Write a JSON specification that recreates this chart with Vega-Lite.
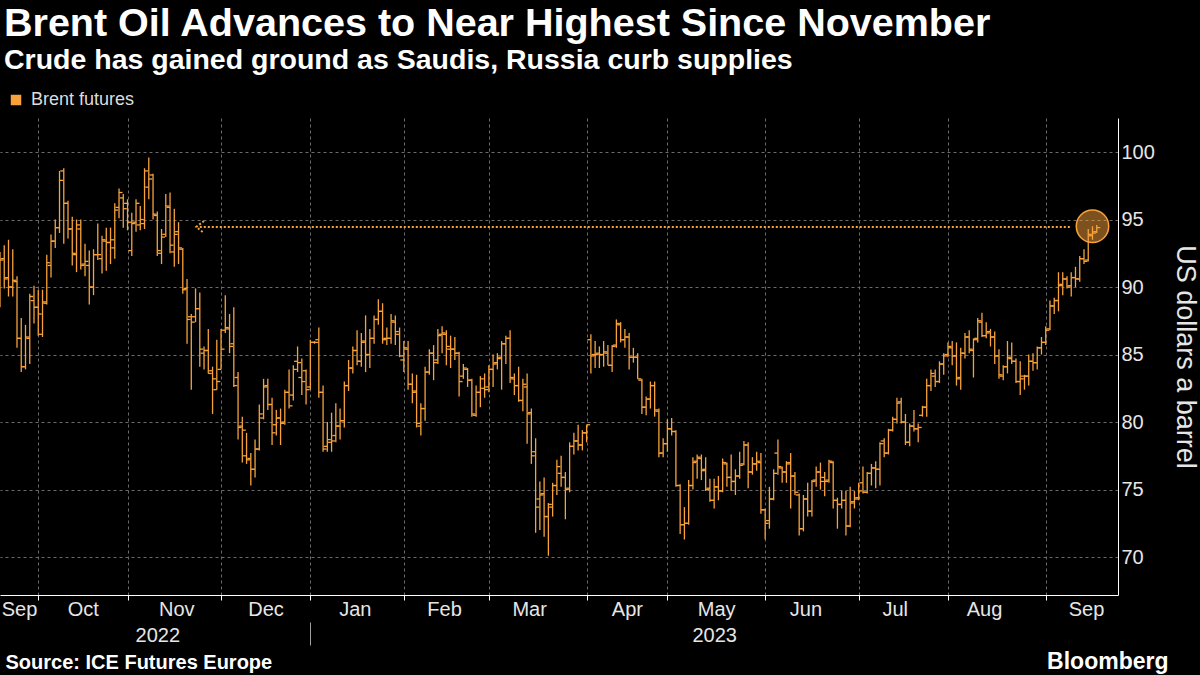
{
"$schema":"https://vega.github.io/schema/vega-lite/v6.json",
"width":1118,"height":477,
"autosize":{"type":"none"},
"padding":{"left":0,"top":118,"right":82,"bottom":80},
"background":"#000000",
"title":{"text":"Brent Oil Advances to Near Highest Since November","subtitle":"Crude has gained ground as Saudis, Russia curb supplies","anchor":"start","frame":"group","offset":16,"dx":4,"font":"Liberation Sans","fontSize":39.5,"fontWeight":"bold","color":"#ffffff","subtitleFont":"Liberation Sans","subtitleFontSize":28.5,"subtitleFontWeight":"bold","subtitleColor":"#ffffff","subtitlePadding":1},
"config":{
"font":"Liberation Sans",
"view":{"stroke":null},
"axis":{"labelFont":"Liberation Sans","labelColor":"#e6e6e6","labelFontSize":20,"titleFont":"Liberation Sans","titleColor":"#e6e6e6","titleFontWeight":"normal","gridColor":"#6b6b6b","gridDash":[3,3],"gridWidth":1,"domainColor":"#ffffff","tickColor":"#ffffff"},
"axisX":{"grid":false,"ticks":false,"domain":false},
"axisY":{"labelAlign":"left","labelPadding":3,"ticks":false,"grid":true,"domain":true,"titleFontSize":27,"titlePadding":16}
},
"datasets":{
"px":[
{"d":"2022-09-19","o":91.2,"h":92.6,"l":88.5,"c":92.0},
{"d":"2022-09-20","o":92.1,"h":93.1,"l":89.9,"c":90.6},
{"d":"2022-09-21","o":90.7,"h":93.5,"l":89.3,"c":90.0},
{"d":"2022-09-22","o":90.0,"h":92.8,"l":89.3,"c":90.5},
{"d":"2022-09-23","o":90.4,"h":90.8,"l":85.5,"c":86.2},
{"d":"2022-09-26","o":86.2,"h":87.7,"l":83.7,"c":84.1},
{"d":"2022-09-27","o":84.1,"h":87.2,"l":83.9,"c":86.3},
{"d":"2022-09-28","o":86.2,"h":89.5,"l":84.3,"c":89.3},
{"d":"2022-09-29","o":89.0,"h":90.1,"l":87.3,"c":88.5},
{"d":"2022-09-30","o":88.5,"h":89.8,"l":86.4,"c":88.0},
{"d":"2022-10-03","o":86.5,"h":89.8,"l":86.3,"c":88.9},
{"d":"2022-10-04","o":88.8,"h":92.4,"l":88.7,"c":91.8},
{"d":"2022-10-05","o":91.6,"h":93.9,"l":90.7,"c":93.4},
{"d":"2022-10-06","o":93.4,"h":95.0,"l":92.9,"c":94.4},
{"d":"2022-10-07","o":94.4,"h":98.6,"l":94.0,"c":97.9},
{"d":"2022-10-10","o":98.6,"h":98.8,"l":93.2,"c":96.2},
{"d":"2022-10-11","o":96.2,"h":96.4,"l":93.6,"c":94.3},
{"d":"2022-10-12","o":94.3,"h":95.2,"l":91.6,"c":92.5},
{"d":"2022-10-13","o":92.4,"h":95.0,"l":91.1,"c":94.6},
{"d":"2022-10-14","o":94.3,"h":95.0,"l":91.3,"c":91.6},
{"d":"2022-10-17","o":91.7,"h":93.2,"l":90.8,"c":91.9},
{"d":"2022-10-18","o":91.6,"h":92.7,"l":88.7,"c":90.0},
{"d":"2022-10-19","o":90.0,"h":92.8,"l":89.4,"c":92.4},
{"d":"2022-10-20","o":92.4,"h":94.7,"l":92.0,"c":92.4},
{"d":"2022-10-21","o":92.1,"h":93.8,"l":91.0,"c":93.5},
{"d":"2022-10-24","o":93.4,"h":94.4,"l":91.2,"c":93.3},
{"d":"2022-10-25","o":93.3,"h":94.4,"l":91.7,"c":93.5},
{"d":"2022-10-26","o":92.9,"h":96.2,"l":92.1,"c":95.7},
{"d":"2022-10-27","o":95.9,"h":97.3,"l":95.1,"c":97.0},
{"d":"2022-10-28","o":96.6,"h":96.9,"l":94.4,"c":95.8},
{"d":"2022-10-31","o":96.2,"h":96.5,"l":94.2,"c":94.8},
{"d":"2022-11-01","o":92.7,"h":95.5,"l":92.3,"c":94.7},
{"d":"2022-11-02","o":94.8,"h":96.5,"l":94.1,"c":96.2},
{"d":"2022-11-03","o":94.6,"h":96.0,"l":94.2,"c":95.0},
{"d":"2022-11-04","o":94.7,"h":98.8,"l":94.3,"c":98.6},
{"d":"2022-11-07","o":97.4,"h":99.6,"l":96.5,"c":98.0},
{"d":"2022-11-08","o":98.3,"h":98.4,"l":95.0,"c":95.4},
{"d":"2022-11-09","o":95.3,"h":95.6,"l":92.3,"c":92.7},
{"d":"2022-11-10","o":92.5,"h":94.3,"l":91.7,"c":93.7},
{"d":"2022-11-11","o":93.9,"h":96.9,"l":93.7,"c":96.0},
{"d":"2022-11-14","o":95.9,"h":97.0,"l":92.5,"c":93.1},
{"d":"2022-11-15","o":92.6,"h":95.8,"l":91.5,"c":93.9},
{"d":"2022-11-16","o":94.1,"h":94.8,"l":91.7,"c":92.9},
{"d":"2022-11-17","o":92.8,"h":92.9,"l":89.5,"c":89.8},
{"d":"2022-11-18","o":89.9,"h":90.6,"l":85.8,"c":87.6},
{"d":"2022-11-21","o":87.8,"h":88.0,"l":82.4,"c":87.4},
{"d":"2022-11-22","o":87.8,"h":89.9,"l":87.4,"c":88.4},
{"d":"2022-11-23","o":88.4,"h":89.6,"l":84.1,"c":85.4},
{"d":"2022-11-24","o":85.1,"h":85.6,"l":83.9,"c":85.3},
{"d":"2022-11-25","o":85.3,"h":86.9,"l":83.6,"c":83.6},
{"d":"2022-11-28","o":83.8,"h":84.1,"l":80.6,"c":83.2},
{"d":"2022-11-29","o":82.4,"h":86.1,"l":82.4,"c":83.0},
{"d":"2022-11-30","o":83.9,"h":86.9,"l":83.9,"c":85.4},
{"d":"2022-12-01","o":86.8,"h":89.4,"l":86.6,"c":87.0},
{"d":"2022-12-02","o":86.9,"h":88.0,"l":85.1,"c":85.6},
{"d":"2022-12-05","o":85.8,"h":88.5,"l":82.6,"c":82.7},
{"d":"2022-12-06","o":83.3,"h":83.7,"l":78.7,"c":79.6},
{"d":"2022-12-07","o":79.7,"h":80.4,"l":77.0,"c":79.4},
{"d":"2022-12-08","o":77.5,"h":79.2,"l":76.9,"c":77.2},
{"d":"2022-12-09","o":77.3,"h":77.7,"l":75.3,"c":76.5},
{"d":"2022-12-12","o":76.5,"h":78.7,"l":75.9,"c":78.0},
{"d":"2022-12-13","o":78.0,"h":81.3,"l":77.9,"c":80.6},
{"d":"2022-12-14","o":80.3,"h":83.2,"l":80.2,"c":82.6},
{"d":"2022-12-15","o":82.7,"h":83.2,"l":80.9,"c":81.3},
{"d":"2022-12-16","o":81.3,"h":81.8,"l":78.3,"c":79.2},
{"d":"2022-12-19","o":79.8,"h":80.9,"l":79.0,"c":80.3},
{"d":"2022-12-20","o":80.3,"h":81.0,"l":78.3,"c":79.9},
{"d":"2022-12-21","o":80.0,"h":82.4,"l":79.8,"c":82.2},
{"d":"2022-12-22","o":82.2,"h":83.9,"l":81.0,"c":81.2},
{"d":"2022-12-23","o":82.0,"h":84.2,"l":81.6,"c":83.9},
{"d":"2022-12-27","o":84.5,"h":85.6,"l":83.7,"c":84.4},
{"d":"2022-12-28","o":83.3,"h":84.7,"l":82.0,"c":83.0},
{"d":"2022-12-29","o":83.8,"h":83.9,"l":81.3,"c":82.4},
{"d":"2022-12-30","o":82.6,"h":86.1,"l":82.4,"c":85.9},
{"d":"2023-01-02","o":85.9,"h":86.0,"l":85.8,"c":85.9},
{"d":"2023-01-03","o":86.1,"h":87.0,"l":81.8,"c":82.2},
{"d":"2023-01-04","o":82.2,"h":82.7,"l":77.8,"c":78.0},
{"d":"2023-01-05","o":78.2,"h":80.0,"l":77.8,"c":78.7},
{"d":"2023-01-06","o":78.5,"h":80.7,"l":77.8,"c":78.6},
{"d":"2023-01-09","o":79.0,"h":81.4,"l":78.5,"c":79.7},
{"d":"2023-01-10","o":79.7,"h":81.0,"l":78.7,"c":80.1},
{"d":"2023-01-11","o":80.1,"h":83.0,"l":79.6,"c":82.7},
{"d":"2023-01-12","o":82.7,"h":84.6,"l":82.3,"c":84.0},
{"d":"2023-01-13","o":84.0,"h":85.6,"l":83.6,"c":85.3},
{"d":"2023-01-16","o":85.3,"h":86.8,"l":84.2,"c":84.5},
{"d":"2023-01-17","o":84.5,"h":86.6,"l":84.1,"c":85.9},
{"d":"2023-01-18","o":86.0,"h":87.9,"l":83.7,"c":85.0},
{"d":"2023-01-19","o":85.0,"h":86.9,"l":84.0,"c":86.2},
{"d":"2023-01-20","o":86.2,"h":87.9,"l":85.8,"c":87.6},
{"d":"2023-01-23","o":87.6,"h":89.1,"l":87.2,"c":88.2},
{"d":"2023-01-24","o":88.2,"h":88.8,"l":85.8,"c":86.1},
{"d":"2023-01-25","o":86.2,"h":87.0,"l":85.7,"c":86.2},
{"d":"2023-01-26","o":86.2,"h":88.0,"l":85.8,"c":87.5},
{"d":"2023-01-27","o":87.4,"h":87.9,"l":85.7,"c":86.7},
{"d":"2023-01-30","o":86.5,"h":87.0,"l":84.8,"c":84.9},
{"d":"2023-01-31","o":84.6,"h":86.0,"l":83.7,"c":85.5},
{"d":"2023-02-01","o":85.4,"h":86.0,"l":82.4,"c":82.8},
{"d":"2023-02-02","o":82.8,"h":83.6,"l":81.4,"c":82.2},
{"d":"2023-02-03","o":82.3,"h":83.5,"l":79.6,"c":79.9},
{"d":"2023-02-06","o":79.7,"h":81.4,"l":79.0,"c":81.0},
{"d":"2023-02-07","o":81.0,"h":84.1,"l":80.1,"c":83.7},
{"d":"2023-02-08","o":83.7,"h":85.4,"l":83.5,"c":85.1},
{"d":"2023-02-09","o":85.1,"h":85.7,"l":83.1,"c":84.4},
{"d":"2023-02-10","o":84.6,"h":86.9,"l":84.3,"c":86.4},
{"d":"2023-02-13","o":86.5,"h":87.1,"l":85.1,"c":86.6},
{"d":"2023-02-14","o":86.5,"h":86.8,"l":84.2,"c":85.6},
{"d":"2023-02-15","o":85.4,"h":86.4,"l":84.0,"c":85.4},
{"d":"2023-02-16","o":85.4,"h":86.3,"l":84.6,"c":85.1},
{"d":"2023-02-17","o":85.1,"h":85.2,"l":81.9,"c":83.0},
{"d":"2023-02-20","o":83.4,"h":84.3,"l":83.2,"c":84.0},
{"d":"2023-02-21","o":83.9,"h":84.0,"l":82.6,"c":83.1},
{"d":"2023-02-22","o":83.1,"h":83.2,"l":80.4,"c":80.6},
{"d":"2023-02-23","o":80.5,"h":82.7,"l":80.4,"c":82.2},
{"d":"2023-02-24","o":82.2,"h":83.4,"l":81.1,"c":83.2},
{"d":"2023-02-27","o":82.5,"h":83.6,"l":81.8,"c":82.4},
{"d":"2023-02-28","o":82.6,"h":84.2,"l":82.2,"c":83.9},
{"d":"2023-03-01","o":83.9,"h":85.0,"l":82.6,"c":84.3},
{"d":"2023-03-02","o":84.4,"h":85.1,"l":83.9,"c":84.7},
{"d":"2023-03-03","o":84.8,"h":86.0,"l":82.4,"c":85.8},
{"d":"2023-03-06","o":85.8,"h":86.4,"l":84.3,"c":86.2},
{"d":"2023-03-07","o":86.2,"h":86.8,"l":82.9,"c":83.3},
{"d":"2023-03-08","o":83.2,"h":83.6,"l":82.0,"c":82.7},
{"d":"2023-03-09","o":82.7,"h":84.1,"l":81.5,"c":81.6},
{"d":"2023-03-10","o":81.6,"h":83.2,"l":80.8,"c":82.8},
{"d":"2023-03-13","o":82.6,"h":83.6,"l":78.4,"c":80.6},
{"d":"2023-03-14","o":80.7,"h":81.0,"l":76.9,"c":77.5},
{"d":"2023-03-15","o":77.8,"h":78.8,"l":71.8,"c":73.7},
{"d":"2023-03-16","o":74.3,"h":75.6,"l":72.0,"c":74.6},
{"d":"2023-03-17","o":74.7,"h":75.9,"l":71.5,"c":73.0},
{"d":"2023-03-20","o":73.0,"h":74.0,"l":70.1,"c":73.9},
{"d":"2023-03-21","o":73.7,"h":75.5,"l":73.0,"c":75.3},
{"d":"2023-03-22","o":75.3,"h":77.2,"l":74.6,"c":76.7},
{"d":"2023-03-23","o":76.2,"h":77.5,"l":75.2,"c":75.9},
{"d":"2023-03-24","o":75.9,"h":76.3,"l":72.8,"c":75.0},
{"d":"2023-03-27","o":75.1,"h":78.5,"l":74.8,"c":78.2},
{"d":"2023-03-28","o":78.2,"h":79.2,"l":77.6,"c":78.6},
{"d":"2023-03-29","o":78.6,"h":79.8,"l":77.9,"c":78.3},
{"d":"2023-03-30","o":78.3,"h":79.4,"l":77.9,"c":79.2},
{"d":"2023-03-31","o":79.2,"h":79.8,"l":78.5,"c":79.8},
{"d":"2023-04-03","o":86.1,"h":86.5,"l":83.6,"c":84.9},
{"d":"2023-04-04","o":85.0,"h":86.0,"l":84.0,"c":85.0},
{"d":"2023-04-05","o":85.1,"h":85.6,"l":84.0,"c":85.0},
{"d":"2023-04-06","o":85.0,"h":86.0,"l":84.1,"c":85.2},
{"d":"2023-04-10","o":85.1,"h":85.7,"l":84.2,"c":84.2},
{"d":"2023-04-11","o":84.2,"h":85.7,"l":83.7,"c":85.6},
{"d":"2023-04-12","o":85.7,"h":87.6,"l":85.5,"c":87.3},
{"d":"2023-04-13","o":87.2,"h":87.4,"l":85.9,"c":86.1},
{"d":"2023-04-14","o":86.1,"h":86.9,"l":85.5,"c":86.3},
{"d":"2023-04-17","o":86.3,"h":86.6,"l":83.9,"c":84.8},
{"d":"2023-04-18","o":84.8,"h":85.5,"l":84.4,"c":84.8},
{"d":"2023-04-19","o":84.8,"h":85.1,"l":83.2,"c":83.2},
{"d":"2023-04-20","o":83.1,"h":83.2,"l":80.6,"c":81.1},
{"d":"2023-04-21","o":81.1,"h":81.9,"l":80.5,"c":81.7},
{"d":"2023-04-24","o":81.7,"h":83.0,"l":81.0,"c":82.7},
{"d":"2023-04-25","o":82.7,"h":83.0,"l":80.4,"c":80.9},
{"d":"2023-04-26","o":80.8,"h":81.0,"l":77.4,"c":77.7},
{"d":"2023-04-27","o":77.7,"h":78.8,"l":77.4,"c":78.4},
{"d":"2023-04-28","o":78.4,"h":80.2,"l":77.8,"c":79.5},
{"d":"2023-05-01","o":79.5,"h":80.3,"l":79.0,"c":79.3},
{"d":"2023-05-02","o":79.3,"h":79.4,"l":75.2,"c":75.3},
{"d":"2023-05-03","o":75.3,"h":75.4,"l":71.7,"c":72.4},
{"d":"2023-05-04","o":72.4,"h":73.7,"l":71.3,"c":72.5},
{"d":"2023-05-05","o":72.5,"h":75.7,"l":72.4,"c":75.3},
{"d":"2023-05-08","o":75.3,"h":77.4,"l":75.0,"c":77.0},
{"d":"2023-05-09","o":77.1,"h":77.6,"l":75.8,"c":77.4},
{"d":"2023-05-10","o":77.3,"h":77.6,"l":75.7,"c":76.4},
{"d":"2023-05-11","o":76.5,"h":77.4,"l":74.9,"c":75.0},
{"d":"2023-05-12","o":75.1,"h":75.8,"l":74.1,"c":74.2},
{"d":"2023-05-15","o":74.2,"h":75.8,"l":73.6,"c":75.2},
{"d":"2023-05-16","o":75.2,"h":76.0,"l":74.2,"c":74.9},
{"d":"2023-05-17","o":74.9,"h":77.3,"l":74.8,"c":77.0},
{"d":"2023-05-18","o":76.9,"h":77.0,"l":75.2,"c":75.9},
{"d":"2023-05-19","o":75.9,"h":77.6,"l":74.9,"c":75.6},
{"d":"2023-05-22","o":75.6,"h":76.5,"l":74.6,"c":76.0},
{"d":"2023-05-23","o":76.0,"h":77.8,"l":75.8,"c":76.8},
{"d":"2023-05-24","o":76.9,"h":78.6,"l":76.8,"c":78.3},
{"d":"2023-05-25","o":78.3,"h":78.5,"l":75.1,"c":76.3},
{"d":"2023-05-26","o":76.3,"h":77.4,"l":76.1,"c":76.9},
{"d":"2023-05-29","o":76.9,"h":77.8,"l":76.4,"c":77.1},
{"d":"2023-05-30","o":77.0,"h":77.7,"l":73.2,"c":73.5},
{"d":"2023-05-31","o":73.5,"h":73.6,"l":71.3,"c":72.5},
{"d":"2023-06-01","o":72.7,"h":75.2,"l":72.1,"c":74.3},
{"d":"2023-06-02","o":74.3,"h":76.5,"l":74.2,"c":76.2},
{"d":"2023-06-05","o":77.7,"h":78.7,"l":76.1,"c":76.7},
{"d":"2023-06-06","o":76.6,"h":76.7,"l":75.5,"c":76.3},
{"d":"2023-06-07","o":76.3,"h":77.1,"l":75.5,"c":76.9},
{"d":"2023-06-08","o":77.0,"h":77.7,"l":73.6,"c":76.0},
{"d":"2023-06-09","o":76.0,"h":76.3,"l":74.6,"c":74.8},
{"d":"2023-06-12","o":74.6,"h":74.7,"l":71.6,"c":72.1},
{"d":"2023-06-13","o":72.1,"h":74.6,"l":71.9,"c":74.3},
{"d":"2023-06-14","o":74.3,"h":75.5,"l":73.0,"c":73.4},
{"d":"2023-06-15","o":73.4,"h":75.7,"l":73.0,"c":75.6},
{"d":"2023-06-16","o":75.7,"h":76.7,"l":75.2,"c":76.3},
{"d":"2023-06-19","o":76.3,"h":77.0,"l":75.0,"c":75.6},
{"d":"2023-06-20","o":75.9,"h":76.3,"l":74.5,"c":75.6},
{"d":"2023-06-21","o":75.7,"h":77.2,"l":75.5,"c":77.1},
{"d":"2023-06-22","o":77.0,"h":77.1,"l":73.6,"c":74.2},
{"d":"2023-06-23","o":74.2,"h":74.4,"l":72.1,"c":73.9},
{"d":"2023-06-26","o":73.9,"h":74.9,"l":73.6,"c":74.2},
{"d":"2023-06-27","o":74.2,"h":74.9,"l":71.6,"c":72.3},
{"d":"2023-06-28","o":72.3,"h":75.2,"l":72.2,"c":74.0},
{"d":"2023-06-29","o":74.1,"h":74.9,"l":73.6,"c":74.3},
{"d":"2023-06-30","o":74.4,"h":75.5,"l":74.2,"c":74.9},
{"d":"2023-07-03","o":75.5,"h":76.7,"l":74.7,"c":74.8},
{"d":"2023-07-04","o":74.8,"h":76.3,"l":74.7,"c":76.2},
{"d":"2023-07-05","o":76.2,"h":76.9,"l":75.3,"c":76.6},
{"d":"2023-07-06","o":76.6,"h":77.1,"l":75.1,"c":76.5},
{"d":"2023-07-07","o":76.5,"h":78.5,"l":75.3,"c":78.4},
{"d":"2023-07-10","o":78.6,"h":78.8,"l":77.4,"c":77.7},
{"d":"2023-07-11","o":77.7,"h":79.5,"l":77.6,"c":79.4},
{"d":"2023-07-12","o":79.4,"h":80.4,"l":79.3,"c":80.2},
{"d":"2023-07-13","o":80.2,"h":81.8,"l":79.9,"c":81.4},
{"d":"2023-07-14","o":81.5,"h":81.8,"l":79.9,"c":80.0},
{"d":"2023-07-17","o":80.0,"h":80.6,"l":78.3,"c":78.5},
{"d":"2023-07-18","o":78.5,"h":79.9,"l":78.2,"c":79.7},
{"d":"2023-07-19","o":79.7,"h":80.9,"l":79.3,"c":79.5},
{"d":"2023-07-20","o":79.5,"h":79.9,"l":78.5,"c":79.6},
{"d":"2023-07-21","o":80.5,"h":81.2,"l":80.4,"c":81.1},
{"d":"2023-07-24","o":81.1,"h":83.2,"l":80.4,"c":82.7},
{"d":"2023-07-25","o":82.7,"h":83.9,"l":82.3,"c":83.6},
{"d":"2023-07-26","o":83.4,"h":83.9,"l":82.6,"c":83.0},
{"d":"2023-07-27","o":83.0,"h":84.5,"l":82.9,"c":84.3},
{"d":"2023-07-28","o":84.3,"h":85.1,"l":83.5,"c":84.9},
{"d":"2023-07-31","o":85.0,"h":85.9,"l":84.8,"c":85.6},
{"d":"2023-08-01","o":85.5,"h":86.0,"l":84.2,"c":84.9},
{"d":"2023-08-02","o":84.9,"h":85.9,"l":82.7,"c":83.2},
{"d":"2023-08-03","o":83.3,"h":85.5,"l":82.4,"c":85.1},
{"d":"2023-08-04","o":85.1,"h":86.6,"l":84.7,"c":86.3},
{"d":"2023-08-07","o":86.3,"h":86.8,"l":85.1,"c":85.4},
{"d":"2023-08-08","o":85.3,"h":86.2,"l":83.3,"c":86.1},
{"d":"2023-08-09","o":86.2,"h":87.7,"l":85.9,"c":87.5},
{"d":"2023-08-10","o":87.4,"h":88.1,"l":86.3,"c":86.4},
{"d":"2023-08-11","o":86.4,"h":87.4,"l":86.2,"c":86.6},
{"d":"2023-08-14","o":86.7,"h":86.9,"l":85.6,"c":86.3},
{"d":"2023-08-15","o":86.3,"h":86.7,"l":84.3,"c":84.9},
{"d":"2023-08-16","o":84.9,"h":85.4,"l":83.2,"c":83.5},
{"d":"2023-08-17","o":83.4,"h":84.2,"l":83.1,"c":84.1},
{"d":"2023-08-18","o":84.1,"h":86.0,"l":83.6,"c":84.8},
{"d":"2023-08-21","o":84.7,"h":85.9,"l":84.3,"c":84.5},
{"d":"2023-08-22","o":84.5,"h":84.7,"l":82.9,"c":83.0},
{"d":"2023-08-23","o":83.0,"h":84.5,"l":82.0,"c":83.2},
{"d":"2023-08-24","o":83.4,"h":83.5,"l":82.4,"c":83.4},
{"d":"2023-08-25","o":83.4,"h":85.0,"l":82.7,"c":84.5},
{"d":"2023-08-28","o":84.5,"h":85.1,"l":83.8,"c":84.4},
{"d":"2023-08-29","o":84.4,"h":85.6,"l":83.9,"c":85.5},
{"d":"2023-08-30","o":85.5,"h":86.3,"l":85.0,"c":85.9},
{"d":"2023-08-31","o":85.9,"h":87.1,"l":85.7,"c":86.8},
{"d":"2023-09-01","o":86.9,"h":89.0,"l":86.8,"c":88.6},
{"d":"2023-09-04","o":88.6,"h":89.2,"l":88.0,"c":89.0},
{"d":"2023-09-05","o":89.0,"h":91.1,"l":88.2,"c":90.1},
{"d":"2023-09-06","o":90.2,"h":91.1,"l":89.4,"c":90.6},
{"d":"2023-09-07","o":90.6,"h":90.8,"l":89.9,"c":90.0},
{"d":"2023-09-08","o":90.1,"h":91.1,"l":89.3,"c":90.7},
{"d":"2023-09-11","o":90.7,"h":91.5,"l":90.0,"c":90.6},
{"d":"2023-09-12","o":90.6,"h":92.3,"l":90.4,"c":92.1},
{"d":"2023-09-13","o":92.1,"h":92.8,"l":91.7,"c":91.9},
{"d":"2023-09-14","o":92.0,"h":94.3,"l":91.9,"c":93.9},
{"d":"2023-09-15","o":93.8,"h":94.5,"l":93.5,"c":94.0},
{"d":"2023-09-18","o":94.1,"h":94.6,"l":94.0,"c":94.4},
{"d":"2023-09-19"},
{"d":"2023-09-20"},
{"d":"2023-09-21"},
{"d":"2023-09-22"},
{"d":"2023-09-25"}
],
"circle":[{"d":"2023-09-15","p":94.5}],
"arrow":[{"d":"2022-11-23","d2":"2023-09-08","p":94.45}]
},
"layer":[
{"data":{"name":"px"},
 "mark":{"type":"text","text":""},
 "encoding":{
  "x":{"field":"d","type":"ordinal","scale":{"type":"point","padding":0},"title":null,
   "axis":{"orient":"bottom","values":["2022-09-30","2022-10-31","2022-11-30","2022-12-30","2023-01-31","2023-02-28","2023-03-31","2023-04-28","2023-05-31","2023-06-30","2023-07-31","2023-08-31"],
    "grid":true,"ticks":true,"tickSize":5,"tickColor":"#ffffff","labels":false,"domain":true,"domainColor":"#ffffff",
    "title":"Bloomberg","titleX":1168,"titleY":73,"titleAlign":"right","titleAnchor":"end","titleBaseline":"alphabetic","titleFontSize":23,"titleFontWeight":"bold","titleColor":"#ffffff"}}
 }},
{"data":{"name":"circle"},
 "mark":{"type":"point","filled":true,"size":1050,"fill":"#f7a23b","fillOpacity":0.5,"stroke":"#f7a23b","strokeOpacity":1,"strokeWidth":1.5,"opacity":1},
 "encoding":{
  "x":{"field":"d","type":"ordinal","scale":{"type":"point","padding":0},"title":null,
   "axis":{"orient":"bottom","values":["2022-09-23","2022-10-14","2022-11-15","2022-12-14","2023-01-13","2023-02-13","2023-03-13","2023-04-14","2023-05-15","2023-06-13","2023-07-12","2023-08-10","2023-09-13"],
    "labelExpr":"timeFormat(toDate(datum.value + 'T12:00:00'), '%b')","labelPadding":4,"labelOffset":2,"labelAngle":0,"title":null}},
  "y":{"field":"p","type":"quantitative","scale":{"domain":[67.19,102.52],"zero":false,"nice":false},"axis":{"orient":"right","values":[70,75,80,85,90,95,100],"title":"US dollars a barrel"}}
 }},
{"data":{"name":"arrow"},
 "mark":{"type":"rule","color":"#f7a23b","strokeWidth":2,"strokeDash":[2,2]},
 "encoding":{
  "x":{"field":"d","type":"ordinal","scale":{"type":"point","padding":0},"title":null,
   "axis":{"orient":"bottom","values":["2022-11-09","2023-05-15"],"labelExpr":"slice(datum.value, 0, 4)","labelPadding":30,"labelAngle":0,
    "title":"Source: ICE Futures Europe","titleX":5,"titleY":73,"titleAlign":"left","titleAnchor":"start","titleBaseline":"alphabetic","titleFontSize":20,"titleFontWeight":"bold","titleColor":"#ffffff"}},
  "x2":{"field":"d2"},
  "y":{"field":"p","type":"quantitative","scale":{"domain":[67.19,102.52],"zero":false,"nice":false},"axis":{"orient":"right","values":[70,75,80,85,90,95,100],"title":"US dollars a barrel"}}
 }},
{"data":{"name":"arrow"},
 "mark":{"type":"point","shape":"M 0.7 -1 L -0.6 0 L 0.7 1","filled":false,"size":144,"stroke":"#f7a23b","strokeWidth":2,"strokeDash":[2,2],"opacity":1},
 "encoding":{
  "x":{"field":"d","type":"ordinal","scale":{"type":"point","padding":0},"title":null,
   "axis":{"orient":"bottom","values":["2022-12-30"],"offset":27,"ticks":true,"tickSize":23,"tickColor":"#a0a0a0","labels":false,"domain":false,"grid":false,"title":null}},
  "y":{"field":"p","type":"quantitative","scale":{"domain":[67.19,102.52],"zero":false,"nice":false},"axis":{"orient":"right","values":[70,75,80,85,90,95,100],"title":"US dollars a barrel"}}
 }},
{"data":{"name":"px"},
 "mark":{"type":"rule","strokeWidth":1.3},
 "encoding":{
  "x":{"field":"d","type":"ordinal","scale":{"type":"point","padding":0},"axis":null},
  "y":{"field":"l","type":"quantitative","scale":{"domain":[67.19,102.52],"zero":false,"nice":false},"axis":{"orient":"right","values":[70,75,80,85,90,95,100],"title":"US dollars a barrel"}},
  "y2":{"field":"h"},
  "color":{"datum":"Brent futures","type":"nominal","scale":{"range":["#f7a23b"]},
   "legend":{"orient":"none","legendX":7,"legendY":-27,"title":null,"padding":0,"symbolType":"square","symbolSize":110,"symbolFillColor":"#f7a23b","symbolStrokeColor":"#f7a23b","symbolStrokeWidth":0,"labelFontSize":18,"labelColor":"#dddddd","labelFont":"Liberation Sans","labelOffset":6}}
 }},
{"data":{"name":"px"},
 "mark":{"type":"tick","orient":"horizontal","size":3.5,"thickness":1.3,"xOffset":-1.75,"color":"#f7a23b","opacity":1},
 "encoding":{
  "x":{"field":"d","type":"ordinal","scale":{"type":"point","padding":0},"axis":null},
  "y":{"field":"o","type":"quantitative","scale":{"domain":[67.19,102.52],"zero":false,"nice":false},"axis":{"orient":"right","values":[70,75,80,85,90,95,100],"title":"US dollars a barrel"}}
 }},
{"data":{"name":"px"},
 "mark":{"type":"tick","orient":"horizontal","size":3.5,"thickness":1.3,"xOffset":1.75,"color":"#f7a23b","opacity":1},
 "encoding":{
  "x":{"field":"d","type":"ordinal","scale":{"type":"point","padding":0},"axis":null},
  "y":{"field":"c","type":"quantitative","scale":{"domain":[67.19,102.52],"zero":false,"nice":false},"axis":{"orient":"right","values":[70,75,80,85,90,95,100],"title":"US dollars a barrel"}}
 }}
],
"resolve":{"axis":{"x":"independent"}}
}
